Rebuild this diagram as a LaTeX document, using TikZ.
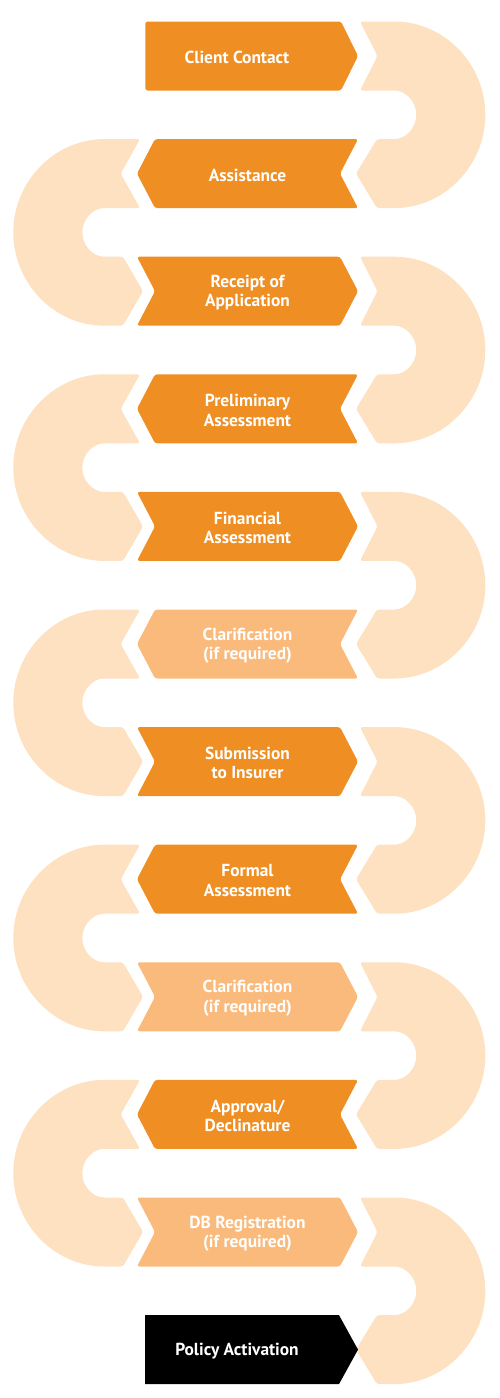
\documentclass[tikz,border=0pt]{standalone}
\usepackage{fontspec}
\setmainfont{PT Sans}
\definecolor{darkorange}{HTML}{EF8E22}
\definecolor{lightorange}{HTML}{F9BA7B}
\definecolor{peach}{HTML}{FDE1C1}
\tikzset{
  lbl/.style={text=white, font=\bfseries\fontsize{17.4}{19.5}\selectfont, align=center, inner sep=0pt, yshift=-1.5pt},
  boxshape/.style={rounded corners=2.5pt},
  loopshape/.style={fill=peach, rounded corners=2.5pt},
}
% right-pointing box with notch: #1 centre y, #2 colour
\newcommand{\rightbox}[2]{%
  \fill[#2, boxshape] (137,#1+34.5) -- (340,#1+34.5) -- (358,#1) -- (340,#1-34.5) -- (137,#1-34.5) -- (155,#1) -- cycle;}
% left-pointing box with notch
\newcommand{\leftbox}[2]{%
  \fill[#2, boxshape] (358,#1+34.5) -- (155,#1+34.5) -- (137,#1) -- (155,#1-34.5) -- (358,#1-34.5) -- (340,#1) -- cycle;}
% right loop: #1 upper row centre, #2 lower row centre
\newcommand{\rightloop}[2]{%
  \fill[loopshape] (360,#1+34.5) -- (392,#1+34.5) arc[start angle=90, end angle=-90, radius=93.3]
    -- (377,#2-34.5) -- (356,#2) -- (377,#2+34.5) -- (392,#2+34.5)
    arc[start angle=-90, end angle=90, radius=24.3]
    -- (360,#1-34.5) -- (377.5,#1) -- cycle;}
% left loop
\newcommand{\leftloop}[2]{%
  \fill[loopshape] (140,#1+34.5) -- (106.6,#1+34.5) arc[start angle=90, end angle=270, radius=93.3]
    -- (123,#2-34.5) -- (143,#2) -- (123,#2+34.5) -- (106.6,#2+34.5)
    arc[start angle=270, end angle=90, radius=24.3]
    -- (140,#1-34.5) -- (120.7,#1) -- cycle;}
\begin{document}
\begin{tikzpicture}[x=1pt, y=1pt]
\useasboundingbox (0,0) rectangle (500,-1398);
% loops
\rightloop{-56}{-173.6}
\leftloop{-173.6}{-291.2}
\rightloop{-291.2}{-408.8}
\leftloop{-408.8}{-526.4}
\rightloop{-526.4}{-644}
\leftloop{-644}{-761.6}
\rightloop{-761.6}{-879.2}
\leftloop{-879.2}{-996.8}
\rightloop{-996.8}{-1114.4}
\leftloop{-1114.4}{-1232}
\rightloop{-1232}{-1349.6}
% boxes
\fill[darkorange, boxshape] (145.3,-21.5) -- (341,-21.5) -- (358,-56) -- (341,-90.5) -- (145.3,-90.5) -- cycle;
\leftbox{-173.6}{darkorange}
\rightbox{-291.2}{darkorange}
\leftbox{-408.8}{darkorange}
\rightbox{-526.4}{darkorange}
\leftbox{-644}{lightorange}
\rightbox{-761.6}{darkorange}
\leftbox{-879.2}{darkorange}
\rightbox{-996.8}{lightorange}
\leftbox{-1114.4}{darkorange}
\rightbox{-1232}{lightorange}
\fill[black] (145,-1315.1) -- (339,-1315.1) -- (358,-1349.6) -- (339,-1384.1) -- (145,-1384.1) -- cycle;
% labels
\node[lbl] (s0) at (237,-56) {Client Contact};
\node[lbl] (s1) at (247.5,-173.6) {Assistance};
\node[lbl] (s2) at (247.5,-291.2) {Receipt of\\Application};
\node[lbl] (s3) at (247.5,-408.8) {Preliminary\\Assessment};
\node[lbl] (s4) at (247.5,-526.4) {Financial\\Assessment};
\node[lbl] (s5) at (247.5,-644) {Clarification\\(if required)};
\node[lbl] (s6) at (247.5,-761.6) {Submission\\to Insurer};
\node[lbl] (s7) at (247.5,-879.2) {Formal\\Assessment};
\node[lbl] (s8) at (247.5,-996.8) {Clarification\\(if required)};
\node[lbl] (s9) at (247.5,-1114.4) {Approval/\\Declinature};
\node[lbl] (s10) at (247.5,-1232) {DB Registration\\(if required)};
\node[lbl] (s11) at (237,-1349.6) {Policy Activation};
\end{tikzpicture}
\end{document}
